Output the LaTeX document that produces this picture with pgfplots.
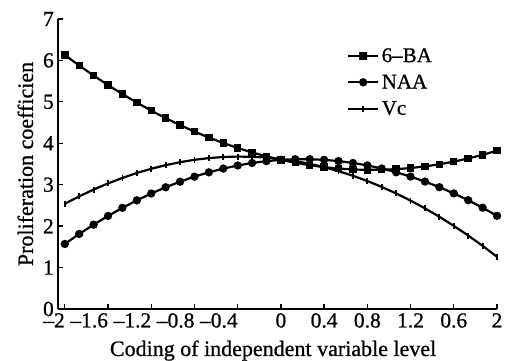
\documentclass[border=0pt]{standalone}
\usepackage{pgfplots}
\pgfplotsset{compat=1.18}
\usepackage{pgfplotstable}
\usepackage{fontspec}
\setmainfont{Liberation Serif}[FakeBold=0.8]

\pgfplotstableread{
x y
-2.0000 6.131
-1.8667 5.877
-1.7333 5.635
-1.6000 5.405
-1.4667 5.187
-1.3333 4.982
-1.2000 4.788
-1.0667 4.607
-0.9333 4.439
-0.8000 4.282
-0.6667 4.138
-0.5333 4.006
-0.4000 3.886
-0.2667 3.778
-0.1333 3.683
0.0000 3.600
0.1333 3.529
0.2667 3.470
0.4000 3.424
0.5333 3.390
0.6667 3.368
0.8000 3.358
0.9333 3.361
1.0667 3.375
1.2000 3.402
1.3333 3.442
1.4667 3.493
1.6000 3.557
1.7333 3.633
1.8667 3.721
2.0000 3.821
}\tabBA

\pgfplotstableread{
x y
-2.0000 1.570
-1.8667 1.811
-1.7333 2.036
-1.6000 2.246
-1.4667 2.442
-1.3333 2.622
-1.2000 2.788
-1.0667 2.938
-0.9333 3.073
-0.8000 3.194
-0.6667 3.299
-0.5333 3.389
-0.4000 3.464
-0.2667 3.525
-0.1333 3.569
0.0000 3.600
0.1333 3.615
0.2667 3.615
0.4000 3.600
0.5333 3.571
0.6667 3.525
0.8000 3.466
0.9333 3.391
1.0667 3.300
1.2000 3.196
1.3333 3.076
1.4667 2.940
1.6000 2.790
1.7333 2.626
1.8667 2.445
2.0000 2.250
}\tabNAA

\pgfplotstableread{
x y
-2.0000 2.540
-1.8667 2.719
-1.7333 2.883
-1.6000 3.031
-1.4667 3.164
-1.3333 3.283
-1.2000 3.385
-1.0667 3.472
-0.9333 3.544
-0.8000 3.601
-0.6667 3.642
-0.5333 3.669
-0.4000 3.679
-0.2667 3.674
-0.1333 3.655
0.0000 3.620
0.1333 3.569
0.2667 3.504
0.4000 3.423
0.5333 3.327
0.6667 3.216
0.8000 3.089
0.9333 2.946
1.0667 2.790
1.2000 2.617
1.3333 2.429
1.4667 2.226
1.6000 2.007
1.7333 1.773
1.8667 1.525
2.0000 1.260
}\tabVc

\begin{document}
\begin{tikzpicture}
\begin{axis}[
  scale only axis,
  width=439pt, height=290pt,
  xmin=-2.063, xmax=2,
  ymin=0, ymax=7,
  axis lines=left,
  axis line style={-, line width=1.5pt},
  tick align=inside,
  major tick length=4.5pt,
  tick style={line width=1.3pt, black},
  xtick={-2,-1.6,-1.2,-0.8,-0.4,0,0.4,0.8,1.2,1.6,2},
  xticklabels={\llap{–2},\llap{–1.6},\llap{–1.2},\llap{–0.8},\llap{–0.4},0,0.4,0.8,1.2,0.6,2},
  ytick={0,1,2,3,4,5,6,7},
  /pgf/number format/assume math mode=true,
  tick label style={font=\fontsize{21.5}{24}\selectfont, inner sep=4pt},
  xlabel={Coding of independent variable level},
  ylabel={Proliferation coefficien},
  every axis x label/.style={at={(axis description cs:0.49,0)}, anchor=base, yshift=-47pt, font=\fontsize{22}{26}\selectfont},
  every axis y label/.style={at={(axis description cs:-0.057,0.5)}, rotate=90, anchor=base, font=\fontsize{22}{26}\selectfont},
  legend style={draw=none, fill=none, at={(0.658,0.905)}, anchor=north west, inner sep=0pt,
    row sep=8pt, column sep=1pt,
    nodes={inner sep=1.5pt, font=\fontsize{21}{24}\selectfont}},
  legend cell align=left,
  legend image code/.code={\draw[mark repeat=2,mark phase=2,#1] plot coordinates {(0pt,0pt) (15pt,0pt) (30pt,0pt)};},
]
\addplot[black, line width=2.2pt, mark=square*, mark size=2.6pt] table[x=x,y=y] {\tabBA};
\addlegendentry{6–BA}
\addplot[black, line width=2.2pt, mark=*, mark size=3pt] table[x=x,y=y] {\tabNAA};
\addlegendentry{NAA}
\addplot[black, line width=2.2pt, mark=|, mark size=3pt, mark options={line width=1.8pt}] table[x=x,y=y] {\tabVc};
\addlegendentry{Vc}
\coordinate (sw) at (rel axis cs:0,0);
\coordinate (ne) at (rel axis cs:1,1);
\end{axis}
\pgfresetboundingbox
\path[use as bounding box] ([shift={(-58pt,-52pt)}]sw) rectangle ([shift={(8pt,19pt)}]ne);
\end{tikzpicture}
\end{document}
